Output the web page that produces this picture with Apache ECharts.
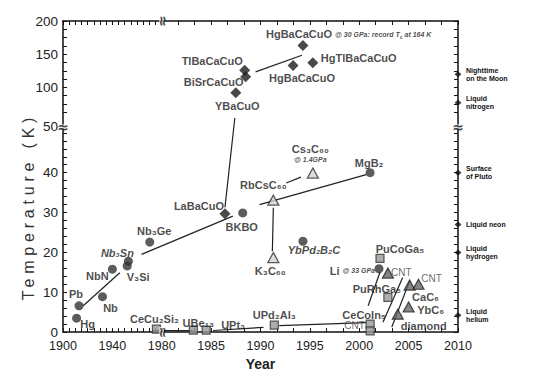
<!DOCTYPE html>
<html>
<head>
<meta charset="utf-8">
<script src="https://cdn.jsdelivr.net/npm/echarts@6/dist/echarts.min.js"></script>
<style>
  html, body { margin: 0; background: #fff; }
  #main { width: 557px; height: 376px; }
</style>
</head>
<body>
<div id="main"></div>
<script>
// 数据: year / temperature (K)

// circles
const circleNames = ['Hg', 'Pb', 'Nb', 'NbN', 'V₃Si', 'Nb₃Sn', 'Nb₃Ge', 'BKBO', 'YbPd₂B₂C', '{b|Li} {t|@ 33 GPa}', 'MgB₂']
const circleYears = [1911, 1913, 1932, 1940, 1952, 1953, 1970.3, 1988.2, 1994.3, 2002, 2001.1]
const circleTemps = [3.5, 6.6, 8.9, 15.8, 16.6, 17.8, 22.6, 29.9, 22.8, 15.9, 40]

// diamonds (cuprates)
const diamondNames = ['LaBaCuO', 'YBaCuO', 'BiSrCaCuO', 'TlBaCaCuO', 'HgBaCaCuO', 'HgTlBaCaCuO',
  '{b|HgBaCaCuO} {t|@ 30 GPa: record T}{ts|c}{t| at 164 K}']
const diamondYears = [1986.4, 1987.5, 1988.5, 1988.4, 1993.3, 1995.3, 1994.3]
const diamondTemps = [29.7, 92, 116, 126, 133, 137, 163]

// open triangles (fullerides)
const fullerNames = ['RbCsC₆₀', '{b|Cs₃C₆₀}\n{t|@ 1.4GPa}', 'K₃C₆₀']
const fullerYears = [1991.3, 1995.3, 1991.3]
const fullerTemps = [33.1, 39.9, 18.7]

// grey triangles
const carbonNames = ['CNT', 'CaC₆', 'CNT', 'YbC₆', 'diamond']
const carbonYears = [2002.9, 2005.1, 2006, 2005, 2003.9]
const carbonTemps = [14.8, 11.8, 12, 6.3, 4.5]

// squares (heavy fermions etc.)
const squareNames = ['CeCu₂Si₂', 'UBe₁₃', 'UPt₃', 'UPd₂Al₃', 'CeCoIn₅', 'CNT', 'PuCoGa₅', 'PuRhGa₅']
const squareYears = [1975.7, 1983.2, 1984.5, 1991.4, 2001.1, 2001.1, 2002.1, 2002.9]
const squareTemps = [0.75, 0.5, 0.5, 1.75, 2, 0.3, 18.5, 8.7]

// hand drawn trend lines: [year1, T1, year2, T2]
const trendLines = [
  [1916.4, 6.6, 1946, 14.9],
  [1963.6, 19.5, 1987.2, 29.1],
  [1987.4, 54, 1986.4, 31.3],
  [1989.9, 32, 2000.7, 39.5],
  [1992.6, 37.4, 1994.1, 38.9],
  [1991.3, 31.2, 1991.2, 20.3],
  [1989.5, 123.4, 1994.2, 148.4],
  [1972.7, 0.35, 1983.1, 0.35],
  [1985.2, 0.4, 1990.3, 1.2],
  [1991.9, 1.6, 2000.7, 2.4],
  [2000.9, 6.6, 2002.1, 15],
  [2004.4, 13.7, 2002.4, 2.5],
  [2005.1, 12.8, 2003.3, 1.3]
]

// reference temperatures on the right
const refNames = ['Nighttime\non the Moon', 'Liquid\nnitrogen', 'Surface\nof Pluto', 'Liquid neon', 'Liquid\nhydrogen', 'Liquid\nhelium']
const refTemps = [120, 77, 40, 27, 20, 4.2]

// tick labels
const yearTicks = [1900, 1940, 1980, 1985, 1990, 1995, 2000, 2005, 2010]
const tempTicks = [0, 10, 20, 30, 40, 50, 100, 150, 200]

// label offsets (dx, dy, align) - kept apart from the values
const circleLabelPos = [[11, 6], [-3, -12], [8, 11], [-15, 7], [11, 11], [-11, -8], [4.5, -11], [-1, 14], [11, 9], [-4, 2, 'right'], [-1, -10]]
const diamondLabelPos = [[-26, -8], [1.5, 13], [-32, 5], [-32.5, -9], [9, 13], [8, -4.5, 'left'], [-37, -11.5, 'left']]
const fullerLabelPos = [[-10, -15.5], [-2.5, -19], [-3, 13.5]]
const carbonLabelPos = [[13.5, -1], [16, 12], [13, -5.5], [22, 3.5], [26, 11.5]]
const squareLabelPos = [[-2, -10], [5, -7], [27, -5.5], [0, -10], [-6, -9], [-15.5, -5], [20, -9], [-11, -8.5]]
const italicNames = ['Nb₃Sn', 'YbPd₂B₂C']

const FONT = '"Liberation Sans", Arial, sans-serif'

// broken axes: 1900-1980 squeezed 8x, 50-200 K squeezed 6x
let fx = y => y <= 1980 ? (y - 1900) / 8 : 10 + (y - 1980)
let fy = t => t <= 50 ? t : 61.4 + (t - 100) / 6
let ix = v => v <= 10 ? 1900 + v * 8 : 1980 + (v - 10)
let iy = v => v <= 50 ? v : 100 + (v - 61.4) * 6
const X_MAX = fx(2010)
const Y_MAX = fy(200)
const Y_BREAK = 51.5

let xTicks = []
for (let y = 1900; y <= 1980; y += 5) xTicks.push(fx(y))
for (let k = 1; k <= 18; k++) xTicks.push(fx(1980 + k * 5 / 3))
let yTicks = []
for (let t = 0; t <= 50; t += 2) yTicks.push(fy(t))
for (let t = 62.5; t <= 200; t += 12.5) yTicks.push(fy(t))

const xLabelVals = yearTicks.map(fx)
const yLabelVals = tempTicks.map(t => t === 50 ? Y_BREAK : fy(t))
const refVals = refTemps.map(fy)

const RICH = {
  b: { fontSize: 11, fontWeight: 'bold', fontFamily: FONT, color: '#1a1a1a' },
  t: { fontSize: 7, fontWeight: 'bold', fontStyle: 'italic', fontFamily: FONT, color: '#1a1a1a' },
  ts: { fontSize: 5, fontWeight: 'bold', fontFamily: FONT, color: '#1a1a1a', padding: [5, 0, 0, 0] }
}

function pointSeries (names, years, temps, pos, symbol, size, itemStyle) {
  return {
    type: 'scatter',
    symbol: symbol,
    symbolSize: size,
    itemStyle: itemStyle,
    clip: false,
    silent: true,
    z: 4,
    label: {
      show: true,
      position: 'inside',
      formatter: p => p.name,
      color: '#1a1a1a',
      fontSize: 11,
      fontWeight: 'bold',
      fontFamily: FONT,
      verticalAlign: 'middle',
      lineHeight: 10,
      rich: RICH
    },
    data: names.map((n, i) => {
      let lab = { offset: [pos[i][0], pos[i][1]], align: pos[i][2] || 'center' }
      if (italicNames.includes(n)) lab.fontStyle = 'italic'
      if (n === 'CNT') { lab.fontWeight = 'normal'; lab.fontSize = 10; lab.color = '#444' }
      return { name: n, value: [fx(years[i]), fy(temps[i])], label: lab }
    })
  }
}

let series = []
trendLines.forEach(s => {
  series.push({
    type: 'line',
    symbol: 'none',
    silent: true,
    z: 2,
    lineStyle: { color: '#222', width: 1.2 },
    data: [[fx(s[0]), fy(s[1])], [fx(s[2]), fy(s[3])]]
  })
})
series.push(pointSeries(circleNames, circleYears, circleTemps, circleLabelPos, 'circle', 9, { color: '#333' }))
series.push(pointSeries(diamondNames, diamondYears, diamondTemps, diamondLabelPos, 'diamond', 11, { color: '#1c1c1c' }))
series.push(pointSeries(fullerNames, fullerYears, fullerTemps, fullerLabelPos, 'triangle', [11, 10], { color: '#d4d4d4', borderColor: '#333', borderWidth: 1.3 }))
series.push(pointSeries(carbonNames, carbonYears, carbonTemps, carbonLabelPos, 'triangle', [11, 10], { color: '#666', borderColor: '#222', borderWidth: 1.2 }))
series.push(pointSeries(squareNames, squareYears, squareTemps, squareLabelPos, 'rect', 8, { color: '#999', borderColor: '#333', borderWidth: 1.2 }))

// axis break marks
series.push({
  type: 'scatter',
  symbol: 'rect',
  clip: false,
  silent: true,
  z: 6,
  itemStyle: { color: '#fff' },
  label: { show: true, position: 'inside', formatter: '≈', fontSize: 14, fontWeight: 'bold', color: '#111', fontFamily: 'DejaVu Sans' },
  data: [
    { value: [fx(1980), 0], symbolSize: [5, 10], label: { rotate: 90 } },
    { value: [fx(1980), Y_MAX], symbolSize: [5, 10], label: { rotate: 90 } },
    { value: [0, Y_BREAK], symbolSize: [10, 5] },
    { value: [X_MAX, Y_BREAK], symbolSize: [10, 5] }
  ]
})
// markers for the reference temperatures
series.push({
  type: 'scatter',
  symbol: 'diamond',
  symbolSize: [7, 6],
  clip: false,
  silent: true,
  z: 6,
  itemStyle: { color: '#111' },
  data: refVals.map(v => [X_MAX, v])
})

let axisLine = { show: true, onZero: false, lineStyle: { color: '#111', width: 1.5 } }

let option = {
  animation: false,
  backgroundColor: '#fff',
  grid: { left: 63, right: 99, top: 21, bottom: 43 },
  xAxis: [{
    type: 'value', min: 0, max: X_MAX, position: 'bottom',
    axisLine: axisLine,
    axisTick: { show: true, inside: true, length: 4, customValues: xTicks, lineStyle: { color: '#111' } },
    axisLabel: { customValues: xLabelVals, formatter: v => String(Math.round(ix(v))), color: '#222', fontSize: 12.5, margin: 7, fontFamily: FONT },
    splitLine: { show: false },
    name: 'Year', nameLocation: 'middle', nameGap: 22,
    nameTextStyle: { fontSize: 14, fontWeight: 'bold', color: '#222', fontFamily: FONT }
  }, {
    type: 'value', min: 0, max: X_MAX, position: 'top',
    axisLine: axisLine,
    axisTick: { show: true, inside: true, length: 4, customValues: xTicks, lineStyle: { color: '#111' } },
    axisLabel: { show: false },
    splitLine: { show: false }
  }],
  yAxis: [{
    type: 'value', min: 0, max: Y_MAX, position: 'left',
    axisLine: axisLine,
    axisTick: { show: true, inside: true, length: 4, customValues: yTicks, lineStyle: { color: '#111' } },
    axisLabel: {
      customValues: yLabelVals,
      formatter: v => Math.abs(v - Y_BREAK) < 0.01 ? '50' : String(Math.round(iy(v))),
      color: '#222', fontSize: 13.5, margin: 5, fontFamily: FONT
    },
    splitLine: { show: false },
    name: 'Temperature (K)', nameLocation: 'middle', nameGap: 27, nameMoveOverlap: false,
    nameTextStyle: { fontSize: 16, color: '#333', fontFamily: FONT, padding: [0, 60, 0, 0] }
  }, {
    type: 'value', min: 0, max: Y_MAX, position: 'right',
    axisLine: axisLine,
    axisTick: { show: true, inside: true, length: 4, customValues: yTicks, lineStyle: { color: '#111' } },
    axisLabel: {
      customValues: refVals,
      formatter: v => {
        let k = refVals.findIndex(r => Math.abs(r - v) < 0.01)
        return k < 0 ? '' : refNames[k]
      },
      color: '#111', fontSize: 7, fontWeight: 'bold', lineHeight: 8, margin: 8, align: 'left', fontFamily: FONT
    },
    splitLine: { show: false }
  }],
  series: series
}

let chart = echarts.init(document.getElementById('main'), null, { renderer: 'svg' })
chart.setOption(option)

// wide letter spacing of the y axis title
function spaceTitle () {
  document.querySelectorAll('#main text').forEach(t => {
    if (t.textContent === 'Temperature (K)') t.setAttribute('letter-spacing', '4.8')
  })
}
spaceTitle()
chart.on('finished', spaceTitle)
setTimeout(spaceTitle, 50)
</script>
</body>
</html>
